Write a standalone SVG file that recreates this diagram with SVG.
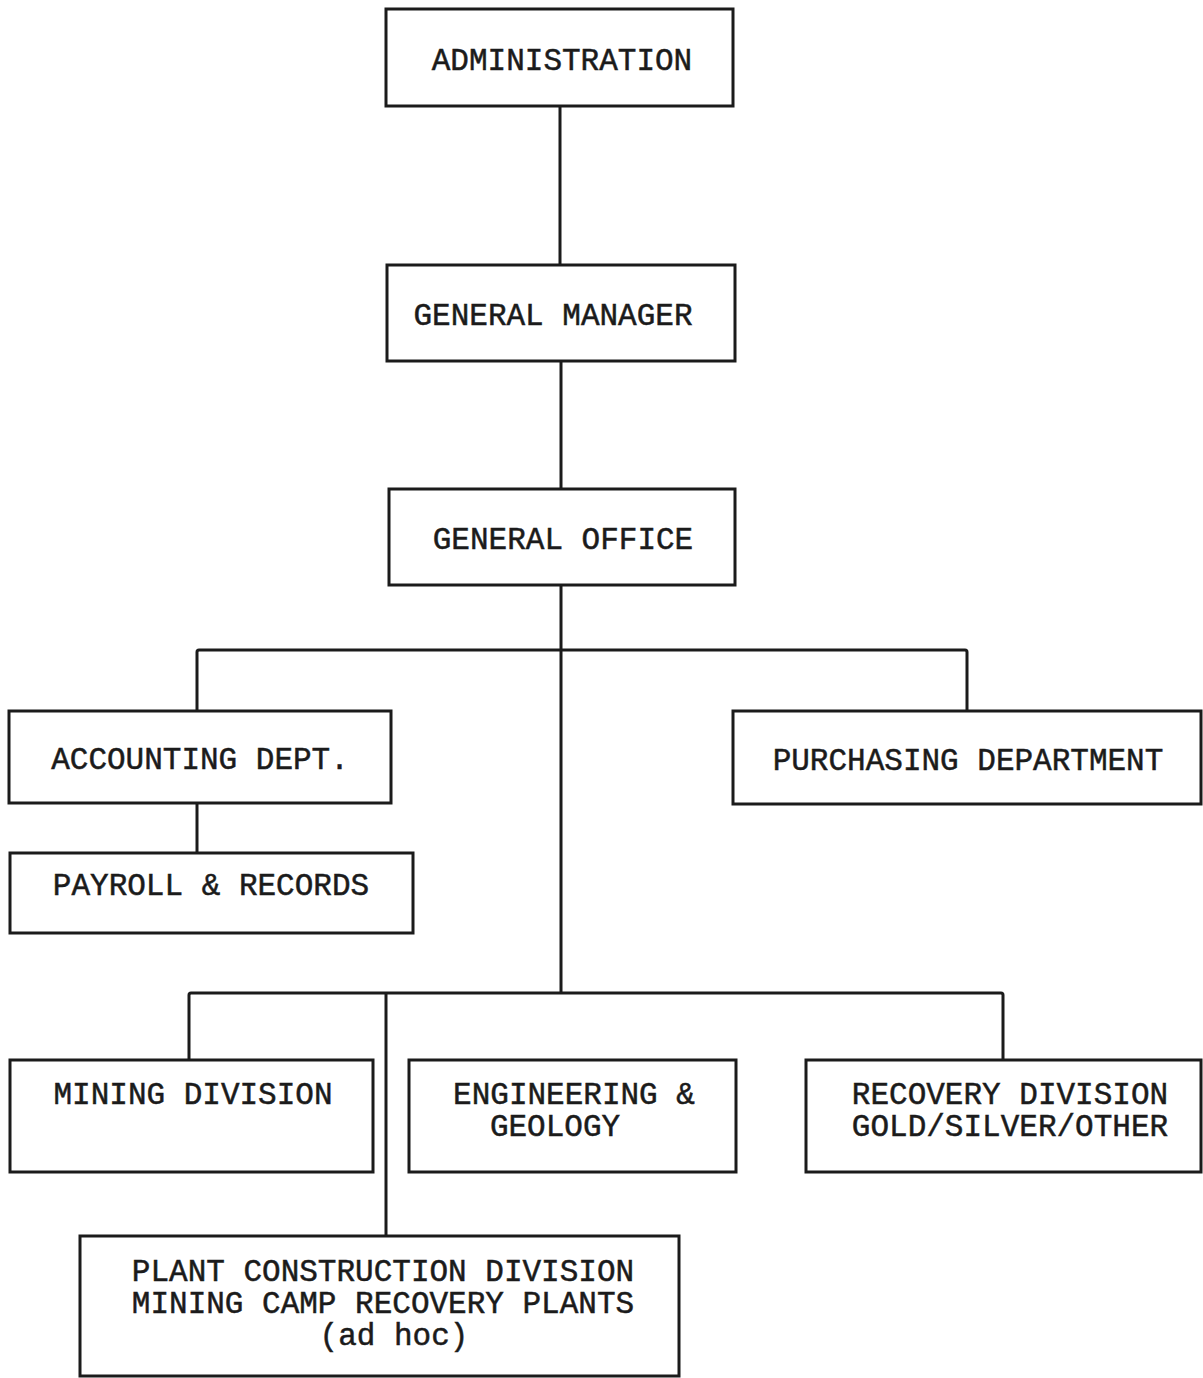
<svg xmlns="http://www.w3.org/2000/svg" width="1203" height="1378" viewBox="0 0 1203 1378">
<style>
.box{fill:#fff;stroke:#1b1b1b;stroke-width:3}
.ln{fill:none;stroke:#1b1b1b;stroke-width:3;stroke-linejoin:round}
.t{font-family:"Liberation Mono","Courier New",monospace;font-size:31px;fill:#1b1b1b;stroke:#1b1b1b;stroke-width:0.5;text-anchor:middle}
</style>
<rect width="1203" height="1378" fill="#fff"/>
<g id="connectors">
<path class="ln" d="M560,105 V266"/>
<path class="ln" d="M561,361 V490"/>
<path class="ln" d="M561,585 V993"/>
<path class="ln" d="M197,711 V652 Q197,650 199,650 H965 Q967,650 967,652 V711"/>
<path class="ln" d="M197,803 V853"/>
<path class="ln" d="M189,1060 V995 Q189,993 191,993 H1001 Q1003,993 1003,995 V1060"/>
<path class="ln" d="M386,993 V1236"/>
</g>
<g id="administration"><rect class="box" x="386" y="9" width="347" height="97"/><text class="t" x="562" y="70">ADMINISTRATION</text></g>
<g id="general-manager"><rect class="box" x="387" y="265" width="348" height="96"/><text class="t" x="553" y="325">GENERAL MANAGER</text></g>
<g id="general-office"><rect class="box" x="389" y="489" width="346" height="96"/><text class="t" x="563" y="549">GENERAL OFFICE</text></g>
<g id="accounting"><rect class="box" x="9" y="711" width="382" height="92"/><text class="t" x="200" y="769">ACCOUNTING DEPT.</text></g>
<g id="payroll"><rect class="box" x="10" y="853" width="403" height="80"/><text class="t" x="211" y="895">PAYROLL &amp; RECORDS</text></g>
<g id="purchasing"><rect class="box" x="733" y="711" width="468" height="93"/><text class="t" x="968" y="770">PURCHASING DEPARTMENT</text></g>
<g id="mining"><rect class="box" x="10" y="1060" width="363" height="112"/><text class="t" x="193" y="1104">MINING DIVISION</text></g>
<g id="engineering"><rect class="box" x="409" y="1060" width="327" height="112"/><text class="t" x="574" y="1104">ENGINEERING &amp;</text><text class="t" x="555" y="1136">GEOLOGY</text></g>
<g id="recovery"><rect class="box" x="806" y="1060" width="395" height="112"/><text class="t" x="1010" y="1104">RECOVERY DIVISION</text><text class="t" x="1010" y="1136">GOLD/SILVER/OTHER</text></g>
<g id="plant"><rect class="box" x="80" y="1236" width="599" height="140"/><text class="t" x="383" y="1281">PLANT CONSTRUCTION DIVISION</text><text class="t" x="383" y="1313">MINING CAMP RECOVERY PLANTS</text><text class="t" x="394" y="1345">(ad hoc)</text></g>
</svg>
